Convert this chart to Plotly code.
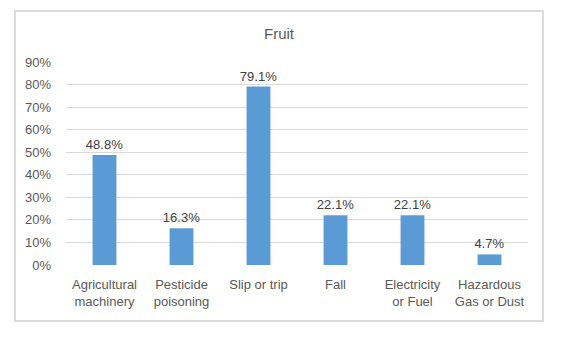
import plotly.graph_objects as go

categories = ["Agricultural<br>machinery", "Pesticide<br>poisoning", "Slip or trip",
              "Fall", "Electricity<br>or Fuel", "Hazardous<br>Gas or Dust"]
shares = [0.488, 0.163, 0.791, 0.221, 0.221, 0.047]
y_ticks = [0.0, 0.1, 0.2, 0.3, 0.4, 0.5, 0.6, 0.7, 0.8, 0.9]

FONT = "Liberation Sans, Arial, sans-serif"
W, H = 562, 337
L, R, T, B = 66, 34, 62, 72
pw, ph = W - L - R, H - T - B

fig = go.Figure(go.Bar(
    x=categories, y=shares,
    marker=dict(color="#5B9BD5", line=dict(width=0)),
    width=0.31,
    texttemplate="%{y:.1%}", textposition="outside", constraintext="none",
    textfont=dict(family=FONT, size=13, color="#404040"),
    cliponaxis=False,
))

# outer chart frame
fx0, fx1 = (15 - L) / pw, (543 - L) / pw
fy0, fy1 = (H - B - 321) / ph, (H - B - 11) / ph

fig.update_layout(
    width=W, height=H,
    margin=dict(l=L, r=R, t=T, b=B),
    paper_bgcolor="white", plot_bgcolor="white",
    showlegend=False,
    title=dict(text="Fruit", x=279 / W, xanchor="center", y=1 - 34 / H, yanchor="middle",
               font=dict(family=FONT, size=15, color="#595959")),
    xaxis=dict(tickfont=dict(family=FONT, size=13, color="#595959"),
               showgrid=False, showline=False, ticks="", ticklabelstandoff=10),
    yaxis=dict(range=[0, 0.9], tickvals=y_ticks, tickformat=".0%",
               tickfont=dict(family=FONT, size=13, color="#595959"),
               gridcolor="#D9D9D9", gridwidth=1, zeroline=False,
               showline=False, ticks="", ticklabelstandoff=14),
    shapes=[dict(type="rect", xref="paper", yref="paper",
                 x0=fx0, x1=fx1, y0=fy0, y1=fy1,
                 line=dict(color="#D0D0D0", width=1.5), layer="below")],
)

fig.write_html("out.html")
